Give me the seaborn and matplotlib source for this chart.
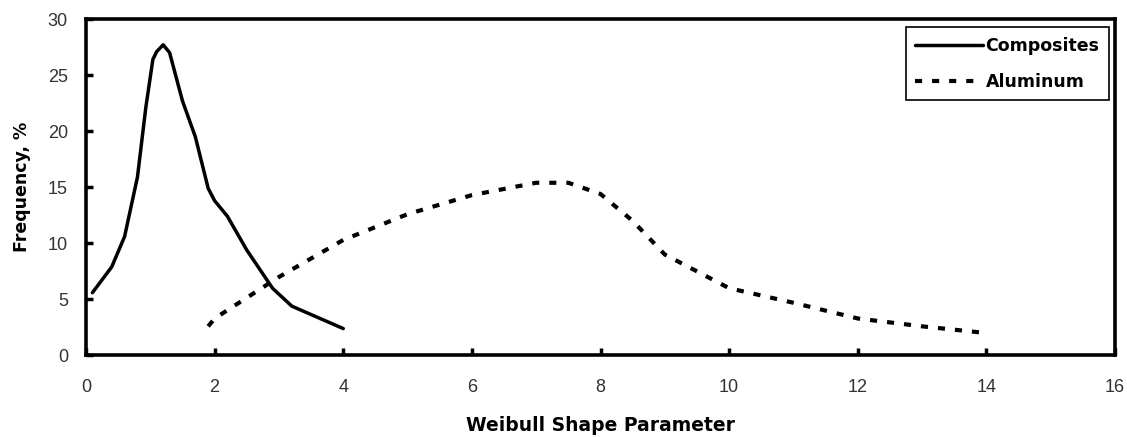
import matplotlib
matplotlib.use("Agg")
import matplotlib.pyplot as plt
import seaborn as sns

# Weibull shape parameter distributions (frequency in %)
composites_shape = [0.1, 0.4, 0.6, 0.8, 0.93, 1.04, 1.1, 1.2, 1.3, 1.5, 1.7, 1.9, 2.0, 2.2, 2.5, 2.9, 3.2, 3.6, 4.0]
composites_freq = [5.6, 7.9, 10.6, 15.9, 22.1, 26.4, 27.1, 27.7, 27.0, 22.7, 19.5, 14.9, 13.8, 12.4, 9.4, 6.0, 4.4, 3.4, 2.4]

aluminum_shape = [1.9, 2.0, 3.0, 4.0, 5.0, 6.0, 7.0, 7.5, 8.0, 8.5, 9.0, 10.0, 11.0, 12.0, 13.0, 14.0]
aluminum_freq = [2.6, 3.3, 7.0, 10.3, 12.6, 14.3, 15.4, 15.4, 14.4, 12.0, 9.0, 6.0, 4.7, 3.3, 2.6, 2.0]

x_ticks = [0, 2, 4, 6, 8, 10, 12, 14, 16]
y_ticks = [0, 5, 10, 15, 20, 25, 30]

sns.set_theme(style="white")
plt.rcParams["font.family"] = ["Liberation Sans", "DejaVu Sans"]

fig = plt.figure(figsize=(11.27, 4.37), dpi=100)
ax = fig.add_axes([0.0763, 0.1865, 0.9131, 0.77])

sns.lineplot(x=composites_shape, y=composites_freq, ax=ax, color="black",
             linewidth=2.5, label="Composites", sort=False)
sns.lineplot(x=aluminum_shape, y=aluminum_freq, ax=ax, color="black",
             linewidth=3.0, linestyle=(0, (1.7, 2.4)), label="Aluminum", sort=False)

ax.set_xlim(0, 16)
ax.set_ylim(0, 30)
ax.set_xticks(x_ticks)
ax.set_yticks(y_ticks)

for side in ["left", "bottom", "top", "right"]:
    ax.spines[side].set_visible(True)
    ax.spines[side].set_color("black")
    ax.spines[side].set_linewidth(2.6)

ax.tick_params(axis="both", which="major", direction="in", length=5, width=2.5,
               color="black", labelsize=13, labelcolor="#333333",
               bottom=True, left=True, top=False, right=False)
ax.tick_params(axis="y", pad=13)
ax.tick_params(axis="x", pad=17)

label_font = {"family": "DejaVu Sans", "weight": "bold", "color": "black"}
ax.set_xlabel("Weibull Shape Parameter", fontdict={**label_font, "size": 13.5}, labelpad=14)
ax.set_ylabel("Frequency, %", fontdict={**label_font, "size": 12.5}, labelpad=12)

leg = ax.legend(loc="upper right", bbox_to_anchor=(0.9942, 0.976), borderaxespad=0,
                frameon=True, fancybox=False, shadow=False, framealpha=1,
                edgecolor="black",
                prop={"family": "DejaVu Sans", "weight": "bold", "size": 12.5},
                handlelength=3.9, handletextpad=0.15, labelspacing=1.05,
                borderpad=0.55)
leg.get_frame().set_linewidth(1.2)
for txt in leg.get_texts():
    txt.set_color("black")

fig.savefig("out.png", dpi=100, facecolor="white")
